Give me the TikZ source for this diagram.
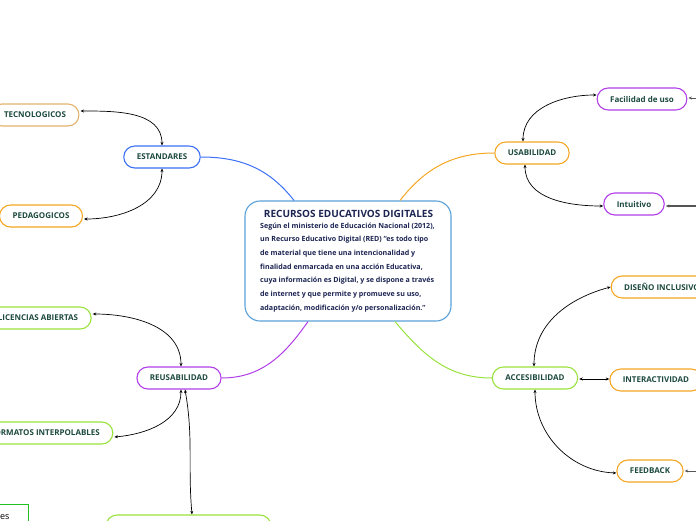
\documentclass[tikz,border=0pt]{standalone}
\usepackage{fontspec}
\setmainfont{Open Sans}
\usetikzlibrary{arrows.meta,calc}
\definecolor{labtext}{HTML}{1D4A3E}
\definecolor{ctext}{HTML}{1C2452}
\definecolor{cblue}{HTML}{5AA0D8}
\definecolor{eblue}{HTML}{3B6FF5}
\definecolor{orng}{HTML}{F5A623}
\definecolor{tan}{HTML}{E3B36E}
\definecolor{purp}{HTML}{B13EE8}
\definecolor{lgreen}{HTML}{99E23C}
\definecolor{dgreen}{HTML}{22C022}
\definecolor{lgray}{HTML}{555555}
\tikzset{
  pill/.style={draw, rounded corners=11pt, line width=1.1pt, minimum height=22pt,
    inner xsep=13pt, inner ysep=0pt, fill=white, text=labtext,
    font=\bfseries\fontsize{8}{9}\selectfont},
  link/.style={black, line width=0.7pt, {Stealth[length=3.5pt,width=3pt]}-{Stealth[length=3.5pt,width=3pt]}},
  inlink/.style={lgray, line width=0.9pt, -{Stealth[length=3.5pt,width=3pt]}},
  branch/.style={line width=1pt},
}
\begin{document}
\begin{tikzpicture}[x=1pt,y=-1pt]
\useasboundingbox (0,0) rectangle (696,520);
\clip (0,0) rectangle (696,520);
% central
\node[draw=cblue, line width=1.1pt, rounded corners=15pt, minimum width=206pt, minimum height=120pt, inner sep=0pt] (c) at (348,261) {};
\node[text=ctext, font=\bfseries\fontsize{10}{11}\selectfont, inner sep=0pt] (ct) at (348.5,214) {RECURSOS EDUCATIVOS DIGITALES};
\node[text=ctext, font=\bfseries\fontsize{7.1}{13.7}\selectfont, align=left, inner sep=0pt, anchor=north west] (cb) at (260,222.5) {Según el ministerio de Educación Nacional (2012),\\un Recurso Educativo Digital (RED) ``es todo tipo\\de material que tiene una intencionalidad y\\finalidad enmarcada en una acción Educativa,\\cuya información es Digital, y se dispone a través\\de internet y que permite y promueve su uso,\\adaptación, modificación y/o personalización.''};
% main branches
\node[pill, draw=eblue] (est) at (162,157) {ESTANDARES};
\node[pill, draw=orng] (usa) at (532,153) {USABILIDAD};
\node[pill, draw=purp] (reu) at (179,378) {REUSABILIDAD};
\node[pill, draw=lgreen] (acc) at (535,378) {ACCESIBILIDAD};
% leaves
\node[pill, draw=tan] (tec) at (35,115) {TECNOLOGICOS};
\node[pill, draw=orng] (ped) at (41,216) {PEDAGOGICOS};
\node[pill, draw=purp] (fac) at (642,99) {Facilidad de uso};
\node[pill, draw=purp] (int) at (634,204) {Intuitivo};
\node[pill, draw=orng] (dis) at (662,287) {DISEÑO INCLUSIVO};
\node[pill, draw=orng] (inter) at (656,380) {INTERACTIVIDAD};
\node[pill, draw=orng] (fee) at (650,471) {FEEDBACK};
\node[pill, draw=lgreen] (lic) at (38,318) {LICENCIAS ABIERTAS};
\node[pill, draw=lgreen] (for) at (45,433) {FORMATOS INTERPOLABLES};
\node[pill, draw=lgreen, minimum width=165pt, inner xsep=0pt] (bot) at (188.5,526) {};
\node[draw=dgreen, line width=1.1pt, minimum width=40pt, minimum height=24pt, anchor=north east, inner sep=0pt] (lb) at (29,504) {};
\node[font=\fontsize{9}{10}\selectfont, anchor=base west, inner sep=0pt] (lbt) at (0,519) {es};
% central connectors
\draw[branch, eblue] (est.east) to[out=0,in=128] ($(c.north)+(-54,0)$);
\draw[branch, orng] ($(c.north)+(52,0)$) to[out=52,in=180] (usa.west);
\draw[branch, purp] ($(c.south)+(-40,0)$) to[out=-125,in=0] (reu.east);
\draw[branch, lgreen] ($(c.south)+(47,0)$) to[out=-50,in=180] (acc.west);
% sub connectors
\draw[link] ($(tec.east)+(1,-4)$) to[out=0,in=90] (est.north);
\draw[link] (est.south) to[out=-90,in=0] ($(ped.east)+(1,3)$);
\draw[link] ($(usa.north)+(-9,0)$) to[out=90,in=180] ($(fac.west)+(0,-4)$);
\draw[link] ($(usa.south)+(-7,0)$) to[out=-90,in=180] ($(int.west)+(0,2)$);
\draw[link] ($(acc.north)+(-1,0)$) to[out=90,in=195] (dis.west);
\draw[link] ($(acc.east)+(1,1)$) -- ($(inter.west)+(0,-1)$);
\draw[link] (acc.south) to[out=-90,in=178] ($(fee.west)+(0,2)$);
\draw[link] ($(lic.east)+(1,-4)$) to[out=0,in=90] ($(reu.north)+(2,0)$);
\draw[link] ($(reu.south)+(2,0)$) to[out=-90,in=5] ($(for.east)+(1,4)$);
\draw[link] ($(reu.south)+(6,0)$) to[out=-80,in=95] ($(bot.north)+(3.5,0)$);
% incoming from off-canvas
\coordinate (facin) at (700,98);
\coordinate (intin) at (700,206);
\coordinate (feein) at (700,471);
\draw[inlink] (facin) -- ($(fac.east)+(1,-1)$);
\draw[inlink, line width=1.3pt] (intin) -- ($(int.east)+(1,2)$);
\draw[inlink] (feein) -- ($(fee.east)+(1,0)$);
\end{tikzpicture}
\end{document}
